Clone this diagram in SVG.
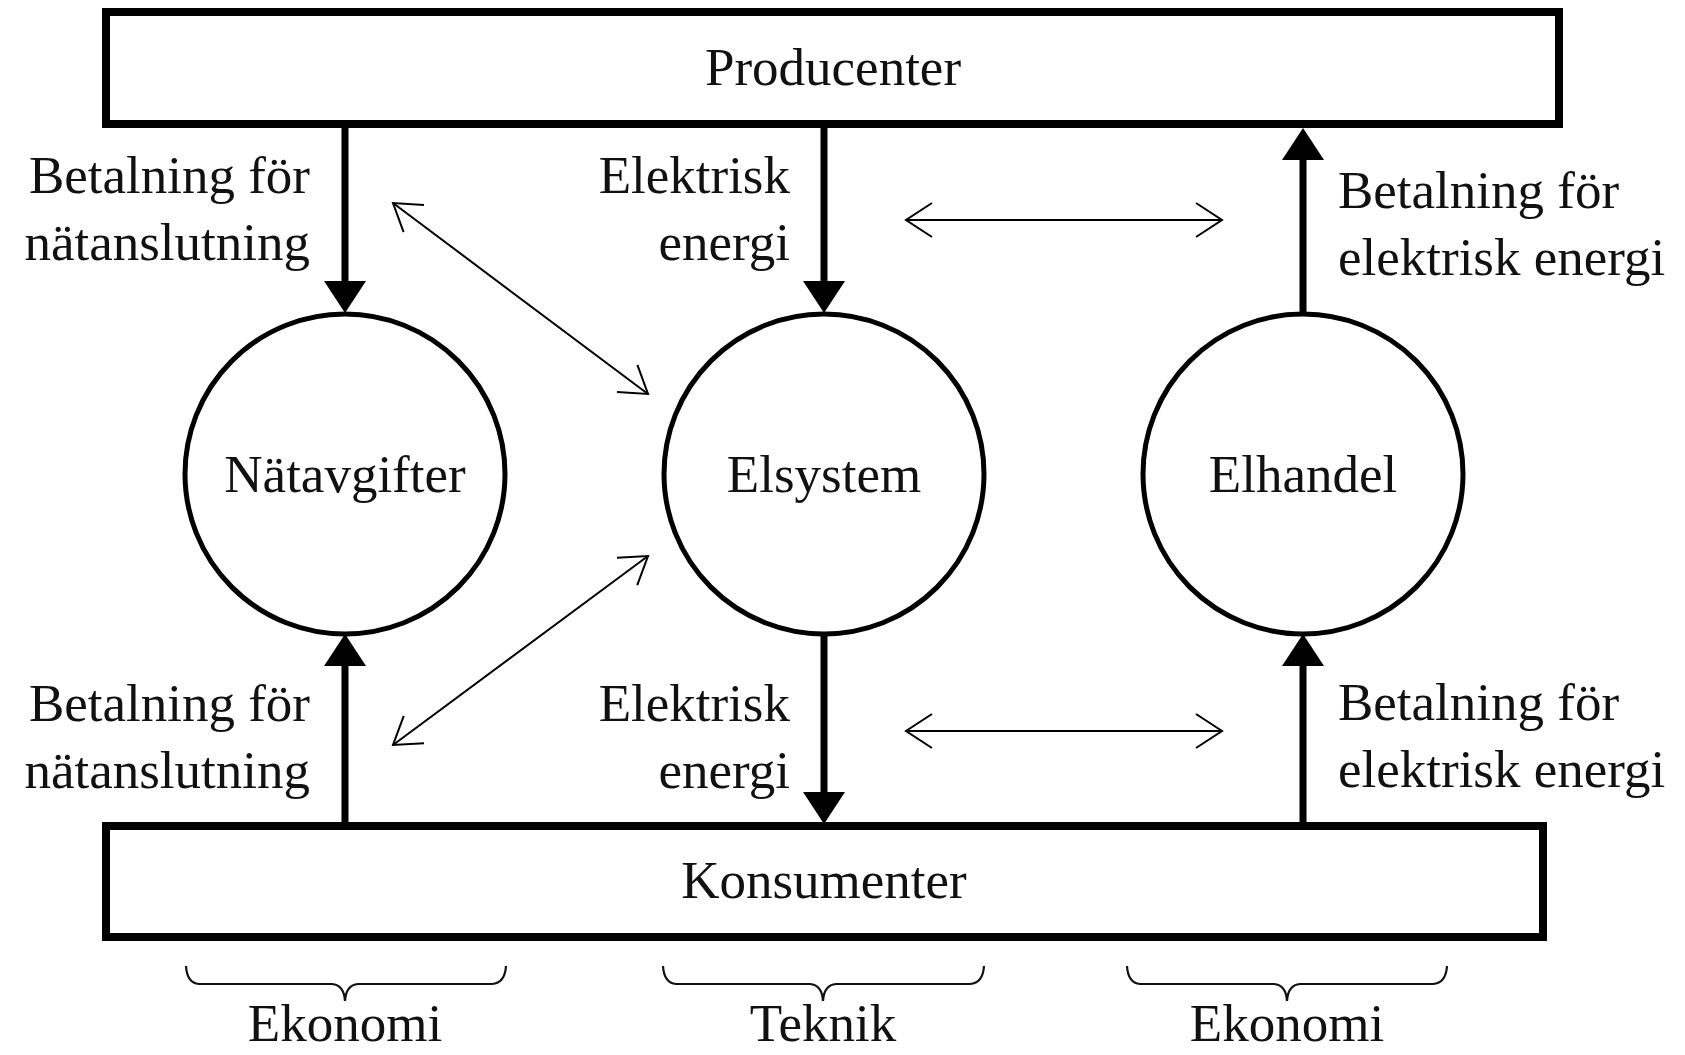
<svg xmlns="http://www.w3.org/2000/svg" width="1685" height="1055" viewBox="0 0 1685 1055">
<style>
.box{fill:#fff;stroke:#000;stroke-width:8}
.circ{fill:#fff;stroke:#000;stroke-width:5}
.t{font-family:"Liberation Serif","Times New Roman",serif;font-size:53px;fill:#111}
.mid{text-anchor:middle}
.end{text-anchor:end}
.thick{stroke:#000;stroke-width:7;fill:none;marker-end:url(#solid)}
.thin{stroke:#000;stroke-width:2;fill:none;marker-start:url(#open);marker-end:url(#open)}
.brace{stroke:#111;stroke-width:2.2;fill:none}
</style>
<defs>
<marker id="solid" markerUnits="userSpaceOnUse" viewBox="0 0 32 42" refX="0" refY="21" markerWidth="32" markerHeight="42" orient="auto">
<path d="M0,0 L32,21 L0,42 Z" fill="#000"/>
</marker>
<marker id="open" markerUnits="userSpaceOnUse" viewBox="-2 -2 30 38" refX="26" refY="17" markerWidth="30" markerHeight="38" orient="auto-start-reverse">
<path d="M0,0 L26,17 L0,34" fill="none" stroke="#000" stroke-width="2"/>
</marker>
</defs>
<g id="connectors">
<line class="thick" x1="345" y1="124" x2="345" y2="281"/>
<line class="thick" x1="824" y1="124" x2="824" y2="281"/>
<line class="thick" x1="1303" y1="314" x2="1303" y2="160"/>
<line class="thick" x1="345" y1="826" x2="345" y2="666"/>
<line class="thick" x1="824" y1="634" x2="824" y2="792"/>
<line class="thick" x1="1303" y1="826" x2="1303" y2="666"/>
<line class="thin" x1="393" y1="203" x2="648" y2="394"/>
<line class="thin" x1="648" y1="556" x2="393" y2="745"/>
<line class="thin" x1="906" y1="220" x2="1222" y2="220"/>
<line class="thin" x1="906" y1="731" x2="1222" y2="731"/>
</g>
<g id="producenter">
<rect class="box" x="106" y="12" width="1453" height="112"/>
<text class="t mid" x="833" y="85">Producenter</text>
</g>
<g id="konsumenter">
<rect class="box" x="106" y="826" width="1437" height="111"/>
<text class="t mid" x="824" y="898">Konsumenter</text>
</g>
<g id="natavgifter">
<circle class="circ" cx="345" cy="474" r="160"/>
<text class="t mid" x="345" y="492">Nätavgifter</text>
</g>
<g id="elsystem">
<circle class="circ" cx="824" cy="474" r="160"/>
<text class="t mid" x="824" y="492">Elsystem</text>
</g>
<g id="elhandel">
<circle class="circ" cx="1303" cy="474" r="160"/>
<text class="t mid" x="1303" y="492">Elhandel</text>
</g>
<g id="labels">
<text class="t end" x="310" y="193">Betalning för</text>
<text class="t end" x="310" y="260">nätanslutning</text>
<text class="t end" x="790" y="193">Elektrisk</text>
<text class="t end" x="790" y="260">energi</text>
<text class="t" x="1338" y="208">Betalning för</text>
<text class="t" x="1338" y="275">elektrisk energi</text>
<text class="t end" x="310" y="721">Betalning för</text>
<text class="t end" x="310" y="788">nätanslutning</text>
<text class="t end" x="790" y="721">Elektrisk</text>
<text class="t end" x="790" y="788">energi</text>
<text class="t" x="1338" y="720">Betalning för</text>
<text class="t" x="1338" y="787">elektrisk energi</text>
</g>
<g id="braces">
<path class="brace" d="M186,966 Q187,983 199,984 L332,984 Q344,985 345,1001 Q346,985 358,984 L492,984 Q505,983 506,966"/>
<path class="brace" d="M663,966 Q664,983 676,984 L810,984 Q822,985 823,1001 Q824,985 836,984 L970,984 Q983,983 984,966"/>
<path class="brace" d="M1127,966 Q1128,983 1140,984 L1274,984 Q1286,985 1287,1001 Q1288,985 1300,984 L1433,984 Q1446,983 1447,966"/>
<text class="t mid" x="345" y="1041">Ekonomi</text>
<text class="t mid" x="823" y="1041">Teknik</text>
<text class="t mid" x="1287" y="1041">Ekonomi</text>
</g>
</svg>
